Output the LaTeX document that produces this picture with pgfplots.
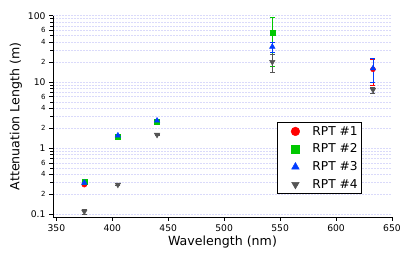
\documentclass[border=0pt]{standalone}
\usepackage{fontspec}
\setmainfont{DejaVu Sans}
\usepackage{pgfplots}
\pgfplotsset{compat=1.18}
\definecolor{cR}{RGB}{255,0,0}
\definecolor{cG}{RGB}{0,200,0}
\definecolor{cB}{RGB}{0,60,255}
\definecolor{cK}{RGB}{85,85,85}
\definecolor{gridc}{RGB}{218,218,250}
\begin{document}
\begin{tikzpicture}[x=1pt,y=1pt]
\begin{axis}[
  scale only axis, width=339pt, height=201.3pt,
  xmin=347, xmax=650, ymin=0.091, ymax=100,
  ymode=log,
  axis x line*=bottom, axis y line*=left,
  axis line style={black, line width=0.5pt},
  tick style={black, line width=0.5pt},
  tick align=outside,
  major tick length=4pt, minor tick length=2.5pt,
  xtick={350,400,450,500,550,600,650},
  ytick={0.1,0.2,0.4,0.6,1,2,4,6,10,20,40,60,100},
  yticklabels={0.1,{\fontsize{7}{8}\selectfont 2},{\fontsize{7}{8}\selectfont 4},{\fontsize{7}{8}\selectfont 6},1,{\fontsize{7}{8}\selectfont 2},{\fontsize{7}{8}\selectfont 4},{\fontsize{7}{8}\selectfont 6},10,{\fontsize{7}{8}\selectfont 2},{\fontsize{7}{8}\selectfont 4},{\fontsize{7}{8}\selectfont 6},100},
  minor ytick={0.3,0.5,0.7,0.8,0.9,3,5,7,8,9,30,50,70,80,90},
  ymajorgrids, yminorgrids,
  major grid style={gridc, dash pattern=on 2pt off 1pt, line width=0.5pt},
  minor grid style={gridc, dash pattern=on 2pt off 1pt, line width=0.5pt},
  /pgf/number format/assume math mode=true,
  ticklabel style={font=\fontsize{9.2}{11}\selectfont},
  log ticks with fixed point,
  xlabel={Wavelength (nm)},
  ylabel={Attenuation Length (m)},
  label style={font=\fontsize{12.6}{14}\selectfont},
  xlabel style={yshift=2pt},
  ylabel style={yshift=-1pt},
  legend style={at={(0.911,0.472)}, anchor=north east, draw=black, line width=0.5pt,
    font=\fontsize{12.2}{13}\selectfont, row sep=3.2pt, inner xsep=2pt, inner ysep=2pt},
  legend cell align=left,
  legend image code/.code={\path[draw=none,fill=none] (-16pt,0pt) -- (15pt,0pt);\draw[#1,mark size=4.3pt] plot coordinates {(0pt,0pt)};},
  error bars/y dir=both, error bars/y explicit,
]
\addplot[only marks, mark=*, color=cR, mark size=2.5pt,
  error bars/error bar style={cR, line width=0.7pt},
  error bars/error mark options={rotate=90, mark size=2.5pt, cR, line width=0.7pt}]
  coordinates {(375,0.28) +- (0,0.01) (405,1.48) +- (0,0.04) (440,2.5) +- (0,0.05) (633,15.5) +- (0,6.6)};
\addlegendentry{RPT \#1}
\addplot[only marks, mark=square*, color=cG, mark size=2.5pt,
  error bars/error bar style={cG, line width=0.7pt},
  error bars/error mark options={rotate=90, mark size=2.5pt, cG, line width=0.7pt}]
  coordinates {(375,0.31) +- (0,0.01) (405,1.5) +- (0,0.04) (440,2.5) +- (0,0.05) (543,56) +- (0,39)};
\addlegendentry{RPT \#2}
\addplot[only marks, mark=triangle*, color=cB, mark size=3.2pt,
  error bars/error bar style={cB, line width=0.7pt},
  error bars/error mark options={rotate=90, mark size=2.5pt, cB, line width=0.7pt}]
  coordinates {(375,0.30) +- (0,0.01) (405,1.55) +- (0,0.04) (440,2.6) +- (0,0.05) (543,34) +- (0,6) (633,16) +- (0,6.3)};
\addlegendentry{RPT \#3}
\addplot[only marks, mark=triangle*, mark options={rotate=180}, color=cK, mark size=3.2pt,
  error bars/error bar style={cK, line width=0.7pt},
  error bars/error mark options={rotate=90, mark size=2.5pt, cK, line width=0.7pt}]
  coordinates {(375,0.11) +- (0,0.01) (405,0.28) +- (0,0.01) (440,1.59) +- (0,0.04) (543,20) +- (0,6) (633,7.6) +- (0,0.8)};
\addlegendentry{RPT \#4}
\end{axis}
\path (current axis.south west) ++(-53pt,-49pt) coordinate (bl);
\path (current axis.north east) ++(15pt,15.7pt) coordinate (tr);
\path (bl) rectangle (tr);
\end{tikzpicture}
\end{document}
